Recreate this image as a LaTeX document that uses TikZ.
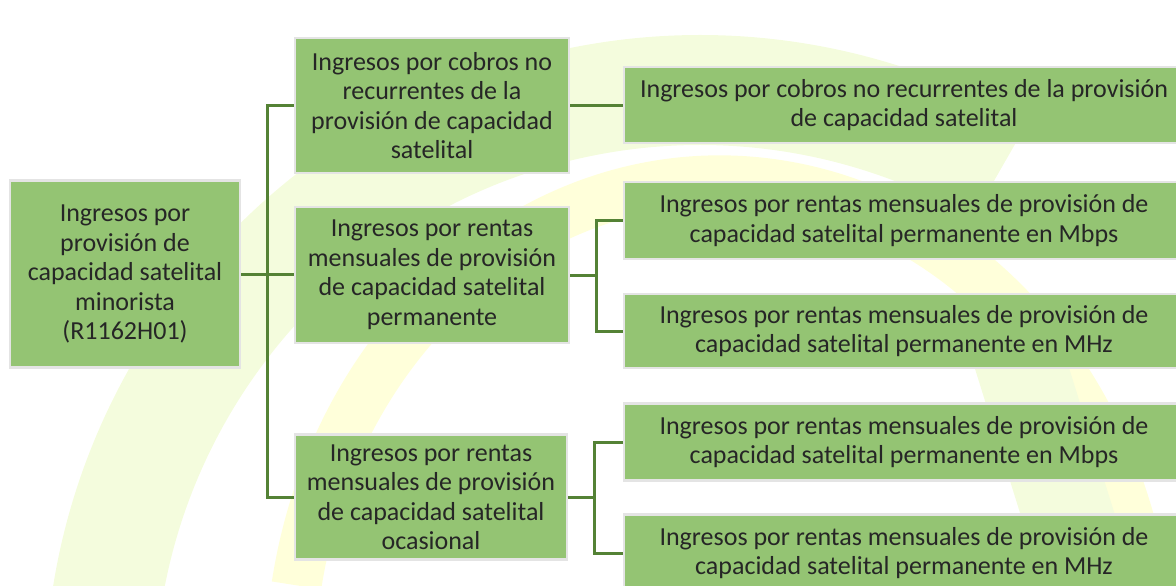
\documentclass[tikz,border=0pt]{standalone}
\usepackage{fontspec}
\setmainfont{Carlito}
\definecolor{boxgreen}{HTML}{94C473}
\definecolor{boxedge}{HTML}{E4E4E4}
\definecolor{linkgreen}{HTML}{548235}
\definecolor{wmgreen}{HTML}{F4FCDD}
\definecolor{wmyellow}{HTML}{FFFFDA}
\tikzset{
    box/.style={rectangle, fill=boxgreen, draw=boxedge, line width=2.5pt, align=center,
        inner sep=0pt, text=black!85, font=\fontsize{26}{29.5}\selectfont},
    link/.style={draw=linkgreen, line width=3pt},
}
\begin{document}
\begin{tikzpicture}[x=1pt,y=-1pt]
    \useasboundingbox (0,0) rectangle (1176,586);
    \clip (0,0) rectangle (1176,586);
    % watermark
    \draw[wmgreen, line width=110] (700,690) ++(170:600) arc[start angle=170, end angle=300, radius=600];
    \draw[wmyellow, line width=50] (720,660) ++(190:430) arc[start angle=190, end angle=352, x radius=430, y radius=490];
    \draw[wmgreen, line width=90] (1010,330) -- (1090,586);
    % boxes
    \node[box, minimum width=230, minimum height=187] (root) at (125,274)
        {Ingresos por\\provisión de\\capacidad satelital\\minorista\\(R1162H01)};
    \node[box, minimum width=274, minimum height=135] (nrc) at (432,105.5)
        {Ingresos por cobros no\\recurrentes de la\\provisión de capacidad\\satelital};
    \node[box, minimum width=274, minimum height=136] (perm) at (432,275)
        {Ingresos por rentas\\mensuales de provisión\\de capacidad satelital\\permanente};
    \node[box, minimum width=272, minimum height=125] (ocas) at (431,497)
        {Ingresos por rentas\\mensuales de provisión\\de capacidad satelital\\ocasional};
    \node[box, minimum width=560, minimum height=76] (nrcsub) at (904,105)
        {Ingresos por cobros no recurrentes de la provisión\\de capacidad satelital};
    \node[box, minimum width=560, minimum height=77] (permmb) at (904,220.5)
        {Ingresos por rentas mensuales de provisión de\\capacidad satelital permanente en Mbps};
    \node[box, minimum width=560, minimum height=74] (permmh) at (904,331)
        {Ingresos por rentas mensuales de provisión de\\capacidad satelital permanente en MHz};
    \node[box, minimum width=560, minimum height=77] (ocasmb) at (904,442)
        {Ingresos por rentas mensuales de provisión de\\capacidad satelital permanente en Mbps};
    \node[box, minimum width=560, minimum height=77] (ocasmh) at (904,553)
        {Ingresos por rentas mensuales de provisión de\\capacidad satelital permanente en MHz};
    % forks
    \coordinate (fork1) at (267,274);
    \coordinate (fork2) at (596,275);
    \coordinate (fork3) at (594,497);
    \draw[link] (root.east) -- (fork1) |- (nrc.west);
    \draw[link] (fork1) -- (perm.west |- fork1);
    \draw[link] (fork1) |- (ocas.west);
    \draw[link] (nrc.east) -- (nrcsub.west |- nrc.east);
    \draw[link] (perm.east) -- (fork2) |- (permmb.west);
    \draw[link] (fork2) |- (permmh.west);
    \draw[link] (ocas.east) -- (fork3) |- (ocasmb.west);
    \draw[link] (fork3) |- (ocasmh.west);
\end{tikzpicture}
\end{document}
